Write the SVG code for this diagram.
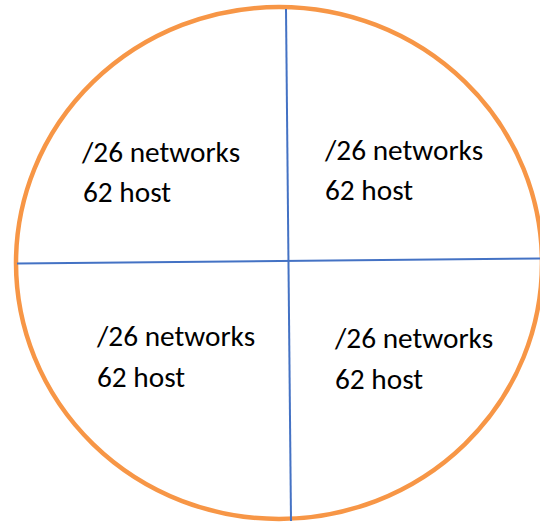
<svg xmlns="http://www.w3.org/2000/svg" width="540" height="523" viewBox="0 0 540 523">
<style>
.lbl{font-family:Carlito,"Liberation Sans",Arial,sans-serif;font-size:29.3px;fill:#000}
.div{stroke:#4472C4;stroke-width:2;fill:none}
</style>
<rect width="540" height="523" fill="#fff"/>
<g id="circle">
<ellipse cx="279" cy="263" rx="263" ry="256" fill="#fff" stroke="#F79646" stroke-width="4.5"/>
</g>
<g id="connectors">
<line class="div" x1="286" y1="9" x2="291" y2="521"/>
<line class="div" x1="17" y1="263.5" x2="540" y2="258.5"/>
</g>
<g id="q1"><text class="lbl" x="82" y="162">/26 networks</text><text class="lbl" x="83" y="202">62 host</text></g>
<g id="q2"><text class="lbl" x="325" y="160">/26 networks</text><text class="lbl" x="325" y="200">62 host</text></g>
<g id="q3"><text class="lbl" x="97" y="346">/26 networks</text><text class="lbl" x="97" y="387">62 host</text></g>
<g id="q4"><text class="lbl" x="335" y="348">/26 networks</text><text class="lbl" x="335" y="389">62 host</text></g>
</svg>
